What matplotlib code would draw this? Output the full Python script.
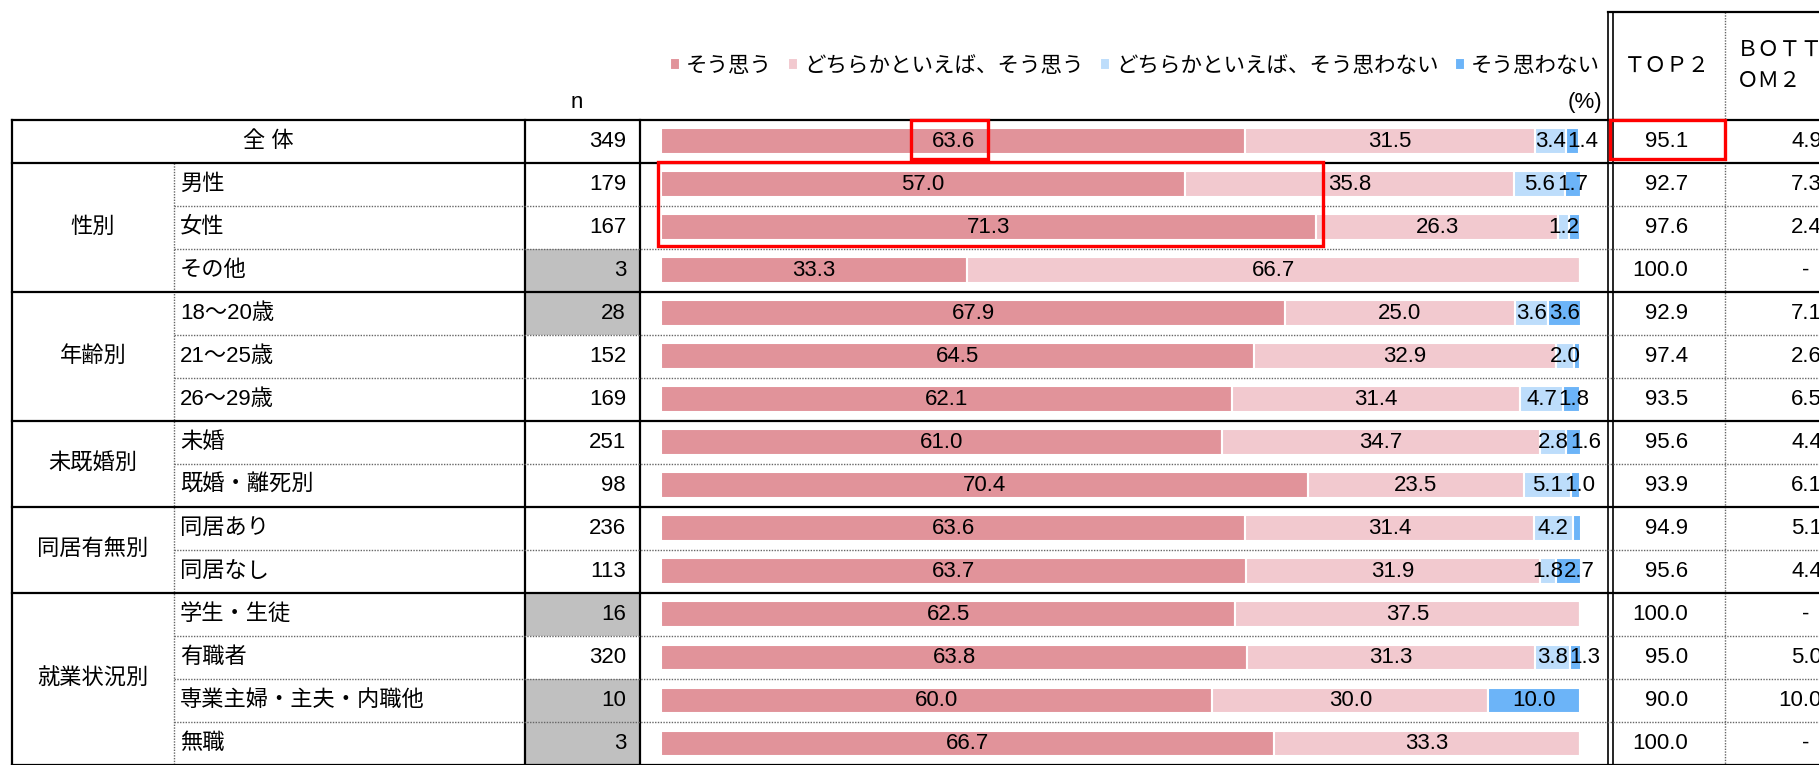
import matplotlib.pyplot as plt
import matplotlib.patches as patches
import numpy as np

plt.rcParams['font.family'] = ['Liberation Sans', 'Noto Sans CJK JP']

# data
groups = ['', '性別', '年齢別', '未既婚別', '同居有無別', '就業状況別']
group_sizes = [1, 3, 3, 2, 2, 4]
row_labels = ['全 体', '男性', '女性', 'その他', '18～20歳', '21～25歳', '26～29歳',
              '未婚', '既婚・離死別', '同居あり', '同居なし',
              '学生・生徒', '有職者', '専業主婦・主夫・内職他', '無職']
n_values = [349, 179, 167, 3, 28, 152, 169, 251, 98, 236, 113, 16, 320, 10, 3]
series_names = ['そう思う', 'どちらかといえば、そう思う', 'どちらかといえば、そう思わない', 'そう思わない']
agree = [63.6, 57.0, 71.3, 33.3, 67.9, 64.5, 62.1, 61.0, 70.4, 63.6, 63.7, 62.5, 63.8, 60.0, 66.7]
rather_agree = [31.5, 35.8, 26.3, 66.7, 25.0, 32.9, 31.4, 34.7, 23.5, 31.4, 31.9, 37.5, 31.3, 30.0, 33.3]
rather_disagree = [3.4, 5.6, 1.2, 0, 3.6, 2.0, 4.7, 2.8, 5.1, 4.2, 1.8, 0, 3.8, 0, 0]
disagree = [1.4, 1.7, 1.2, 0, 3.6, 0.6, 1.8, 1.6, 1.0, 0.9, 2.7, 0, 1.3, 10.0, 0]
top2 = [95.1, 92.7, 97.6, 100.0, 92.9, 97.4, 93.5, 95.6, 93.9, 94.9, 95.6, 100.0, 95.0, 90.0, 100.0]
bottom2 = [4.9, 7.3, 2.4, None, 7.1, 2.6, 6.5, 4.4, 6.1, 5.1, 4.4, None, 5.0, 10.0, None]
hidden_labels = [(2, 3), (5, 3), (9, 3)]  # tiny segments left unlabelled

colors = ['#E1939A', '#F2C9CF', '#BDDDFB', '#6CB4F8']

W, H = 1819, 765
TOP = 119.5
nrows = len(row_labels)
ROW_H = (H - TOP) / nrows
FS = 16

fig = plt.figure(figsize=(W / 100, H / 100), dpi=100)

# stacked bars (drawn first, table overlay on top)
ax_bar = fig.add_axes([661 / W, 0, (1580 - 661) / W, (H - TOP) / H])
ax_bar.set_xlim(0, 100)
ax_bar.set_ylim(nrows, 0)
ax_bar.axis('off')

ax = fig.add_axes([0, 0, 1, 1])
ax.set_xlim(0, W)
ax.set_ylim(H, 0)
ax.axis('off')
ax.patch.set_visible(False)

# x positions of table columns (pixels)
X_LEFT, X_SUB, X_N, X_BAR, X_END, X_TOP2, X_RIGHT = 12, 174, 525, 640, 1610, 1725, W

def row_y(i):
    return TOP + i * ROW_H

# gray cells for small n
for i, n in enumerate(n_values):
    if n < 30:
        ax.add_patch(patches.Rectangle((X_N, row_y(i)), X_BAR - X_N, ROW_H,
                                       facecolor='#C0C0C0', edgecolor='none', zorder=0))

# horizontal lines
group_starts = np.cumsum([0] + group_sizes)
for i in range(nrows + 1):
    y = row_y(i)
    if i in group_starts:
        ax.plot([X_LEFT, X_RIGHT], [y, y], color='black', lw=1.6, zorder=3)
    else:
        ax.plot([X_SUB, X_RIGHT], [y, y], color='#666666', lw=1.0,
                linestyle=(0, (1, 1)), zorder=3)

# vertical lines
ax.plot([X_LEFT, X_LEFT], [TOP, H], color='black', lw=1.6)
ax.plot([X_SUB, X_SUB], [row_y(1), H], color='#666666', lw=1.0, linestyle=(0, (1, 1)))
ax.plot([X_N, X_N], [TOP, H], color='black', lw=1.6)
ax.plot([X_BAR, X_BAR], [TOP, H], color='black', lw=1.6)
ax.plot([X_END - 2.5, X_END - 2.5], [12, H], color='black', lw=1.2)
ax.plot([X_END + 2.5, X_END + 2.5], [12, H], color='black', lw=1.2)
ax.plot([X_TOP2, X_TOP2], [12, H], color='#666666', lw=1.0, linestyle=(0, (1, 1)))
ax.plot([X_END - 2.5, X_RIGHT], [12, 12], color='black', lw=1.6)

# header texts
ax.text(577, 102, 'n', fontsize=FS, ha='center', va='center')
ax.text(1585, 102, '(%)', fontsize=FS, ha='center', va='center')
ax.text(1667, 66, 'ＴＯＰ２', fontsize=15.5, ha='center', va='center')
ax.text(1737, 50, 'ＢＯＴＴ', fontsize=15.5, ha='left', va='center')
ax.text(1737, 81, 'ＯＭ２', fontsize=15.5, ha='left', va='center')

# group labels
for g, start, size in zip(groups, group_starts[:-1], group_sizes):
    if g:
        ax.text((X_LEFT + X_SUB) / 2, row_y(start) + size * ROW_H / 2, g,
                fontsize=FS, ha='center', va='center')

# row labels, n, TOP2, BOTTOM2
for i, lab in enumerate(row_labels):
    yc = row_y(i) + ROW_H / 2
    if i == 0:
        ax.text((X_LEFT + X_N) / 2, yc, lab, fontsize=FS, ha='center', va='center')
    else:
        ax.text(X_SUB + 6, yc, lab, fontsize=FS, ha='left', va='center')
    ax.text(X_BAR - 14, yc, str(n_values[i]), fontsize=FS, ha='right', va='center')
    ax.text(1688, yc, f'{top2[i]:.1f}', fontsize=FS, ha='right', va='center')
    if bottom2[i] is None:
        ax.text(1806, yc, '-', fontsize=FS, ha='center', va='center')
    else:
        ax.text(1822, yc, f'{bottom2[i]:.1f}', fontsize=FS, ha='right', va='center')

ypos = np.arange(nrows) + 0.5
series = [agree, rather_agree, rather_disagree, disagree]
left = np.zeros(nrows)
handles = []
row_texts = [[] for _ in range(nrows)]
for k, (vals, col) in enumerate(zip(series, colors)):
    vals = np.array(vals, dtype=float)
    bars = ax_bar.barh(ypos, vals, left=left, height=0.6, color=col,
                       edgecolor='white', linewidth=1.5)
    handles.append(bars)
    for i, v in enumerate(vals):
        if v > 0 and (i, k) not in hidden_labels:
            t = ax_bar.text(left[i] + v / 2, ypos[i], f'{v:.1f}', fontsize=FS,
                            ha='center', va='center', clip_on=False)
            row_texts[i].append(t)
    left += vals

# legend
fig.legend(handles, series_names, loc='center left', bbox_to_anchor=(670 / W, 1 - 66 / H),
           ncol=4, frameon=False, fontsize=15.5, handlelength=0.45, handleheight=0.45,
           handletextpad=0.3, columnspacing=0.75, borderpad=0, borderaxespad=0)

# red highlight boxes
for (x0, y0, x1, y1) in [(911, 120, 988, 159), (658, 162, 1323, 246), (1610, 120, 1725, 159)]:
    ax.add_patch(patches.Rectangle((x0, y0), x1 - x0, y1 - y0, fill=False,
                                   edgecolor='#FF0000', lw=2.4, zorder=5))

# push crowded labels of small segments to the right, as in the original
fig.canvas.draw()
renderer = fig.canvas.get_renderer()
for texts in row_texts:
    prev_right = None
    for t in texts:
        bb = t.get_window_extent(renderer)
        if prev_right is not None and bb.x0 < prev_right + 1:
            shift = prev_right + 1 - bb.x0
            xd = ax_bar.transData.transform((t.get_position()[0], 0))[0] + shift
            t.set_x(ax_bar.transData.inverted().transform((xd, 0))[0])
            bb = t.get_window_extent(renderer)
        prev_right = bb.x1

fig.savefig('out.png', dpi=100)
